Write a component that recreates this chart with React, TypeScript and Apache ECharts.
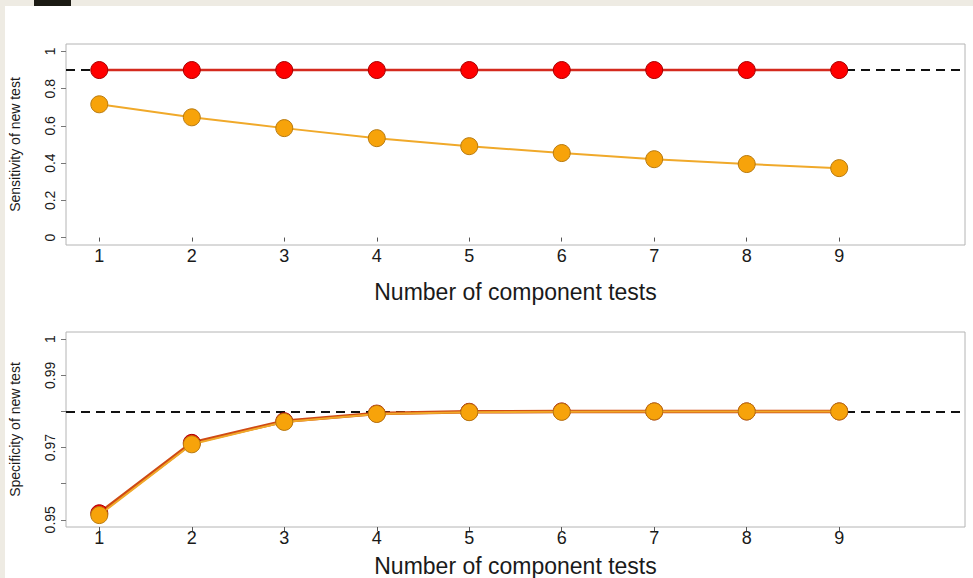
import React, { useEffect, useRef } from "react";
import * as echarts from "echarts";

const components = [1, 2, 3, 4, 5, 6, 7, 8, 9];
const sensRed = [0.9, 0.9, 0.9, 0.9, 0.9, 0.9, 0.9, 0.9, 0.9];
const sensOrange = [0.716, 0.646, 0.588, 0.534, 0.491, 0.454, 0.421, 0.395, 0.373];
const specRed = [0.9518, 0.9713, 0.9773, 0.9794, 0.9799, 0.98, 0.98, 0.98, 0.98];
const specOrange = [0.9513, 0.9709, 0.9771, 0.9793, 0.9798, 0.9799, 0.98, 0.98, 0.98];
const sensTarget = 0.9;
const specTarget = 0.98;
const sensTicks = [0, 0.2, 0.4, 0.6, 0.8, 1];
const specTicks = [0.95, 0.96, 0.97, 0.98, 0.99, 1];
const specLabels = [0.95, 0.97, 0.99, 1];
const xTitle = "Number of component tests";
const sensTitle = "Sensitivity of new test";
const specTitle = "Specificity of new test";

const FONT = "'Liberation Sans', Arial, sans-serif";
const RED_LINE = "#d42a1e";
const RED_FILL = "#ff0000";
const RED_BORDER = "#a80000";
const OR_LINE = "#f0a92a";
const OR_FILL = "#f7a30a";
const OR_BORDER = "#b87a10";

function pairs(ys: number[]) {
  return components.map((x, i) => [x, ys[i]]);
}

export default function App() {
  const ref = useRef<HTMLDivElement>(null);
  useEffect(() => {
    if (!ref.current) return;
    const chart = echarts.init(ref.current, null, { renderer: "svg" });
    const xAxisBase = (gridIndex: number, nameGap: number) => ({
      type: "value",
      gridIndex,
      min: 0.64,
      max: 10.36,
      name: xTitle,
      nameLocation: "middle",
      nameGap,
      nameTextStyle: {
        fontFamily: FONT,
        fontSize: 23,
        color: "#1a1a1a",
        verticalAlign: "top",
      },
      axisLine: { show: false },
      splitLine: { show: false },
      axisTick: {
        show: true,
        customValues: components,
        length: 4,
        lineStyle: { color: "#555", width: 1 },
      },
      axisLabel: {
        show: true,
        customValues: components,
        fontFamily: FONT,
        fontSize: 18,
        color: "#1a1a1a",
        margin: 2,
        formatter: (v: number) => String(v),
      },
    });
    const yAxisBase = (
      gridIndex: number,
      min: number,
      max: number,
      ticks: number[],
      labels: number[],
      name: string
    ) => ({
      type: "value",
      gridIndex,
      min,
      max,
      name,
      nameLocation: "middle",
      nameGap: 44,
      nameTextStyle: { fontFamily: FONT, fontSize: 14, color: "#1a1a1a" },
      axisLine: { show: false },
      splitLine: { show: false },
      axisTick: {
        show: true,
        customValues: ticks,
        length: 5,
        lineStyle: { color: "#777", width: 1 },
      },
      axisLabel: {
        show: true,
        customValues: labels,
        rotate: 90,
        fontFamily: FONT,
        fontSize: 14,
        color: "#1a1a1a",
        margin: 9,
        formatter: (v: number) => String(v),
      },
    });
    const target = (y: number) => ({
      silent: true,
      z: 1,
      symbol: ["none", "none"],
      label: { show: false },
      lineStyle: { color: "#111", width: 2, type: [9, 6] },
      data: [{ yAxis: y }],
    });
    const lineSeries = (
      name: string,
      idx: number,
      ys: number[],
      line: string,
      fill: string,
      border: string,
      width: number,
      z: number
    ) => ({
      name,
      type: "line",
      xAxisIndex: idx,
      yAxisIndex: idx,
      data: pairs(ys),
      symbol: "circle",
      symbolSize: 17,
      lineStyle: { color: line, width },
      itemStyle: { color: fill, borderColor: border, borderWidth: 1 },
      z,
    });
    chart.setOption({
      animation: false,
      backgroundColor: "transparent",
      graphic: [
        {
          type: "rect",
          shape: { x: 5, y: 6, width: 968, height: 572 },
          style: { fill: "#ffffff" },
          z: -10,
        },
        {
          type: "rect",
          shape: { x: 34, y: 0, width: 37, height: 6 },
          style: { fill: "#1b1a14" },
          z: -10,
        },
      ],
      grid: [
        {
          left: 62,
          top: 44,
          width: 903,
          height: 201,
          show: true,
          borderColor: "#b4b4b4",
          borderWidth: 1,
          backgroundColor: "transparent",
        },
        {
          left: 62,
          top: 332,
          width: 903,
          height: 200,
          show: true,
          borderColor: "#b4b4b4",
          borderWidth: 1,
          backgroundColor: "transparent",
        },
      ],
      xAxis: [xAxisBase(0, 35), xAxisBase(1, 27)],
      yAxis: [
        yAxisBase(0, -0.04, 1.04, sensTicks, sensTicks, sensTitle),
        yAxisBase(1, 0.948, 1.002, specTicks, specLabels, specTitle),
      ],
      series: [
        {
          type: "line",
          xAxisIndex: 0,
          yAxisIndex: 0,
          data: [],
          markLine: target(sensTarget),
          z: 1,
        },
        {
          type: "line",
          xAxisIndex: 1,
          yAxisIndex: 1,
          data: [],
          markLine: target(specTarget),
          z: 1,
        },
        lineSeries("Sensitivity (red)", 0, sensRed, RED_LINE, RED_FILL, RED_BORDER, 2.5, 3),
        lineSeries("Sensitivity (orange)", 0, sensOrange, OR_LINE, OR_FILL, OR_BORDER, 2, 4),
        lineSeries("Specificity (red)", 1, specRed, "#cf4a14", RED_FILL, RED_BORDER, 3.5, 3),
        lineSeries("Specificity (orange)", 1, specOrange, OR_LINE, OR_FILL, OR_BORDER, 2, 4),
      ],
    });
    return () => chart.dispose();
  }, []);
  return (
    <div
      style={{
        position: "fixed",
        left: 0,
        top: 0,
        width: 973,
        height: 578,
        background: "#eeebe3",
      }}
    >
      <div ref={ref} style={{ width: 973, height: 578 }} />
    </div>
  );
}
